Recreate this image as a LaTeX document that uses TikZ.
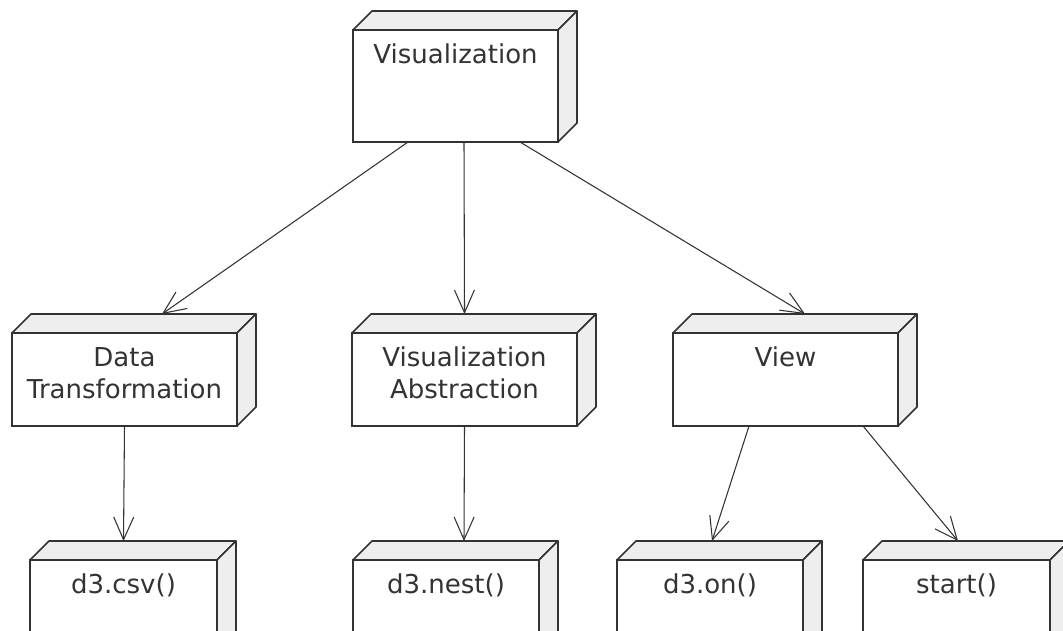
\documentclass[tikz,border=0pt]{standalone}
\usepackage{fontspec}
\setmainfont{DejaVu Sans}
\usetikzlibrary{arrows.meta}

\definecolor{linegray}{HTML}{333333}
\definecolor{facegray}{HTML}{EEEEEE}

% top and side face of a 3D node
\newcommand{\boxfaces}[1]{%
  \filldraw[face] (#1.north west) -- ++(19,-19) -- ([shift={(19,-19)}]#1.north east) -- (#1.north east) -- cycle;
  \filldraw[face] (#1.north east) -- ++(19,-19) -- ([shift={(19,-19)}]#1.south east) -- (#1.south east) -- cycle;}

\tikzset{
  unode/.style={draw=linegray, fill=white, line width=1.2pt, anchor=north west, outer sep=0pt,
    inner xsep=0pt, inner ysep=11pt, text height=14pt, text depth=33.75pt, align=center,
    text=linegray, font=\fontsize{19.5}{24}\selectfont},
  twolines/.style={text height=38pt, text depth=9.75pt},
  face/.style={draw=linegray, fill=facegray, line width=1.2pt, line join=round},
  uses/.style={draw=linegray, line width=0.8pt, -{Straight Barb[length=17pt,width=15pt]}}
}

\begin{document}
\begin{tikzpicture}[x=0.75pt, y=-0.75pt]
\clip (0,0) rectangle (1063,631);

\node[unode, minimum width=153.75pt, text depth=48pt] (vis) at (353,30) {Visualization};

\node[unode, twolines, minimum width=168.75pt] (datatrans) at (12,333) {Data\\Transformation};
\node[unode, twolines, minimum width=168.75pt] (visabs) at (352,333) {Visualization\\Abstraction};
\node[unode, minimum width=168.75pt] (view) at (673,333) {View};

\node[unode, minimum width=140.25pt] (csv) at (30,560) {d3.csv()};
\node[unode, minimum width=139.5pt] (nest) at (353,560) {d3.nest()};
\node[unode, minimum width=139.5pt] (on) at (617,560) {d3.on()};
\node[unode, minimum width=140.25pt] (start) at (863,560) {start()};

\foreach \n in {vis,datatrans,visabs,view,csv,nest,on,start}{\boxfaces{\n}}

% connectors
\draw[uses] ([shift={(-47.5,0)}]vis.south) -- ([shift={(37.5,-19)}]datatrans.north);
\draw[uses] ([shift={(8.5,0)}]vis.south) -- ([shift={(0,-19)}]visabs.north);
\draw[uses] ([shift={(64.5,0)}]vis.south) -- ([shift={(19.5,-19)}]view.north);

\draw[uses] (datatrans.south) -- ([shift={(0,-19)}]csv.north);
\draw[uses] (visabs.south) -- ([shift={(18,-19)}]nest.north);
\draw[uses] ([shift={(-36.5,0)}]view.south) -- ([shift={(2,-19)}]on.north);
\draw[uses] ([shift={(77.5,0)}]view.south) -- ([shift={(1.5,-19)}]start.north);
\end{tikzpicture}
\end{document}
